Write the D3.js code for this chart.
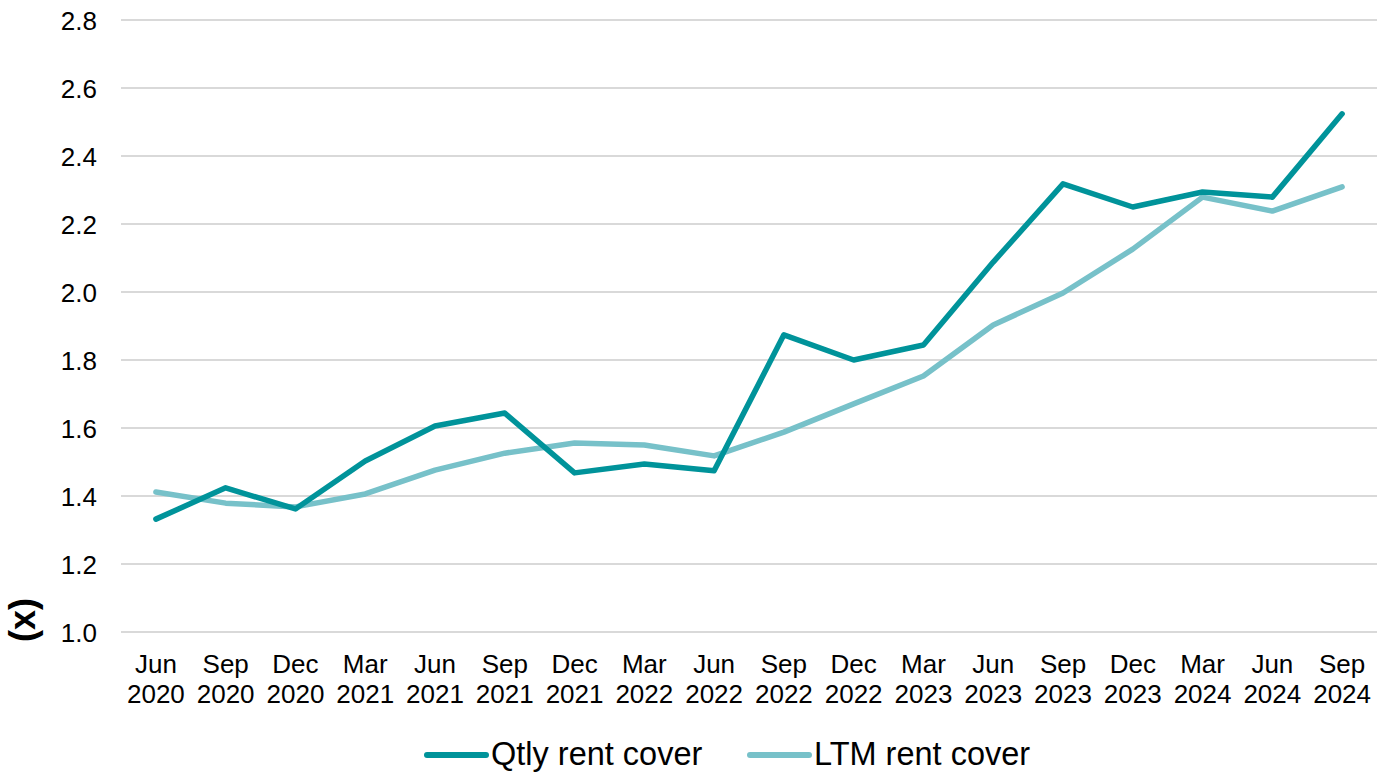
<!DOCTYPE html>
<html><head><meta charset="utf-8">
<script src="https://cdn.jsdelivr.net/npm/d3@7"></script>
<style>body{margin:0;background:#fff}svg{display:block}</style>
</head><body><svg id="c" width="1384" height="772"></svg>
<script>
const categories = ["Jun 2020","Sep 2020","Dec 2020","Mar 2021","Jun 2021","Sep 2021","Dec 2021","Mar 2022","Jun 2022","Sep 2022","Dec 2022","Mar 2023","Jun 2023","Sep 2023","Dec 2023","Mar 2024","Jun 2024","Sep 2024"];
const qtlyRentCover = [1.332,1.424,1.362,1.503,1.606,1.644,1.468,1.494,1.474,1.874,1.800,1.844,2.088,2.318,2.250,2.294,2.279,2.524];
const ltmRentCover = [1.412,1.379,1.368,1.406,1.476,1.526,1.556,1.550,1.518,1.588,1.671,1.753,1.903,1.997,2.126,2.279,2.238,2.309];
const yTicks = [1.0,1.2,1.4,1.6,1.8,2.0,2.2,2.4,2.6,2.8];
const seriesNames = ["Qtly rent cover","LTM rent cover"];
const colors = ["#00939A","#77C1C9"];

const svg = d3.select("#c");
const font = "Liberation Sans, Arial, sans-serif";
const x = d3.scaleBand().domain(categories).range([121,1377]);
const y = d3.scaleLinear().domain([1.0,2.8]).range([632,20]);

// gridlines
svg.append("g").selectAll("line").data(yTicks).join("line")
  .attr("x1",121).attr("x2",1377).attr("y1",d=>y(d)).attr("y2",d=>y(d))
  .attr("stroke","#d9d9d9").attr("stroke-width",2);

// y axis labels
const yAxis = d3.axisLeft(y).tickValues(yTicks).tickFormat(d3.format(".1f")).tickSize(0).tickPadding(0);
const ya = svg.append("g").attr("transform","translate(97,0)").call(yAxis);
ya.attr("font-size",null).attr("font-family",null);
ya.select(".domain").remove();
ya.selectAll("text").style("font-family",font).style("font-size","26px").attr("fill","#000").attr("dy",null).attr("y",9.5);

// x axis labels
const xAxis = d3.axisBottom(x).tickSize(0).tickFormat("");
const xa = svg.append("g").attr("transform","translate(0,632)").call(xAxis);
xa.select(".domain").remove();
xa.selectAll(".tick").each(function(d){
  const parts = d.split(" ");
  const t = d3.select(this).append("text").style("font-family",font).style("font-size","26px")
    .attr("fill","#000").attr("text-anchor","middle");
  t.append("tspan").attr("x",0).attr("y",41).text(parts[0]);
  t.append("tspan").attr("x",0).attr("y",71).text(parts[1]);
});

// y title
svg.append("text").attr("transform","translate(35,620) rotate(-90)")
  .attr("text-anchor","middle").style("font-family",font).style("font-size","36px")
  .attr("font-weight","bold").attr("fill","#000").text("(x)");

// lines
const line = d3.line().x((d,i)=>x(categories[i])+x.bandwidth()/2).y(d=>y(d));
[ltmRentCover, qtlyRentCover].forEach((s,k)=>{
  const idx = k===0 ? 1 : 0;
  svg.append("path").datum(s).attr("d",line).attr("fill","none")
    .attr("stroke",colors[idx]).attr("stroke-width",5.5).attr("stroke-linejoin","round").attr("stroke-linecap","round");
});

// legend
const legendX = [427, 750];
seriesNames.forEach((n,i)=>{
  const g = svg.append("g").attr("transform",`translate(${legendX[i]},755)`);
  g.append("line").attr("x1",0).attr("x2",59).attr("stroke",colors[i]).attr("stroke-width",6).attr("stroke-linecap","round");
  g.append("text").attr("x",64).attr("y",10).style("font-family",font)
    .style("font-size","32.5px").attr("fill","#000").text(n);
});
</script></body></html>
